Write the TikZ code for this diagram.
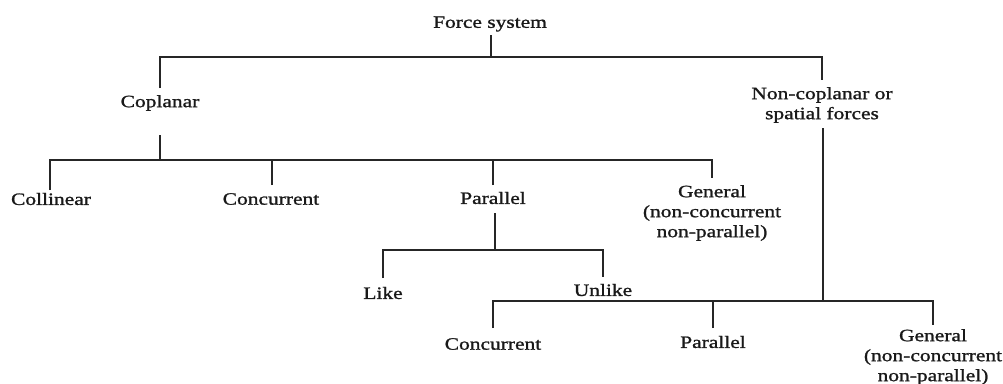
\documentclass[tikz,border=0pt]{standalone}
\usepackage{fontspec}
\setmainfont[FakeStretch=1.24,FakeBold=1.2]{Liberation Serif}
\begin{document}
\begin{tikzpicture}[x=1pt,y=-1pt,
  lbl/.style={inner sep=0pt,align=center,font=\fontsize{17.3}{20}\selectfont,text=black!90},
  edge/.style={line width=1.5pt,draw=black!85},
  thick edge/.style={line width=2.2pt,draw=black!85}]
\useasboundingbox[fill=white] (0,0) rectangle (1003,383);
% nodes
\node[lbl] (fs) at (490,24) {Force system};
\node[lbl] (cop) at (160,103) {Coplanar};
\node[lbl] (ncop) at (822,105) {Non-coplanar or\\spatial forces};
\node[lbl] (col) at (51,199) {Collinear};
\node[lbl] (conc) at (271,199) {Concurrent};
\node[lbl] (par) at (493,198) {Parallel};
\node[lbl] (gen) at (712,213) {General\\(non-concurrent\\non-parallel)};
\node[lbl] (like) at (383,293) {Like};
\node[lbl] (unlike) at (603,290) {Unlike};
\node[lbl] (conc2) at (493,344) {Concurrent};
\node[lbl] (par2) at (713,342) {Parallel};
\node[lbl] (gen2) at (933,357) {General\\(non-concurrent\\non-parallel)};
% junction coordinates
\coordinate (fsb) at (491,35);
\coordinate (bus1) at (491,57);
\coordinate (copt) at (160,88);
\coordinate (ncopt) at (822,80);
\coordinate (copb) at (160,135);
\coordinate (bus2) at (160,160);
\coordinate (colt) at (50,190);
\coordinate (conct) at (272,185);
\coordinate (part) at (493,185);
\coordinate (gent) at (712,178);
\coordinate (parb) at (495,213);
\coordinate (bus3) at (495,250);
\coordinate (liket) at (383,278);
\coordinate (unliket) at (603,277);
\coordinate (ncopb) at (823,128);
\coordinate (bus4) at (823,301);
\coordinate (conc2t) at (493,328);
\coordinate (par2t) at (713,328);
\coordinate (gen2t) at (933,325);
% level 1
\draw[edge] (fsb) -- (bus1);
\draw[edge] (copt) |- (bus1) -| (ncopt);
% coplanar
\draw[edge] (copb) -- (bus2);
\draw[edge] (colt) |- (bus2) -| (gent);
\draw[edge] (conct) -- (conct |- bus2);
\draw[edge] (part) -- (part |- bus2);
% parallel
\draw[thick edge] (parb) -- (bus3);
\draw[thick edge] (liket) |- (bus3) -| (unliket);
% non-coplanar
\draw[edge] (ncopb) -- (bus4);
\draw[edge] (conc2t) |- (bus4) -| (gen2t);
\draw[edge] (par2t) -- (par2t |- bus4);
\end{tikzpicture}
\end{document}
